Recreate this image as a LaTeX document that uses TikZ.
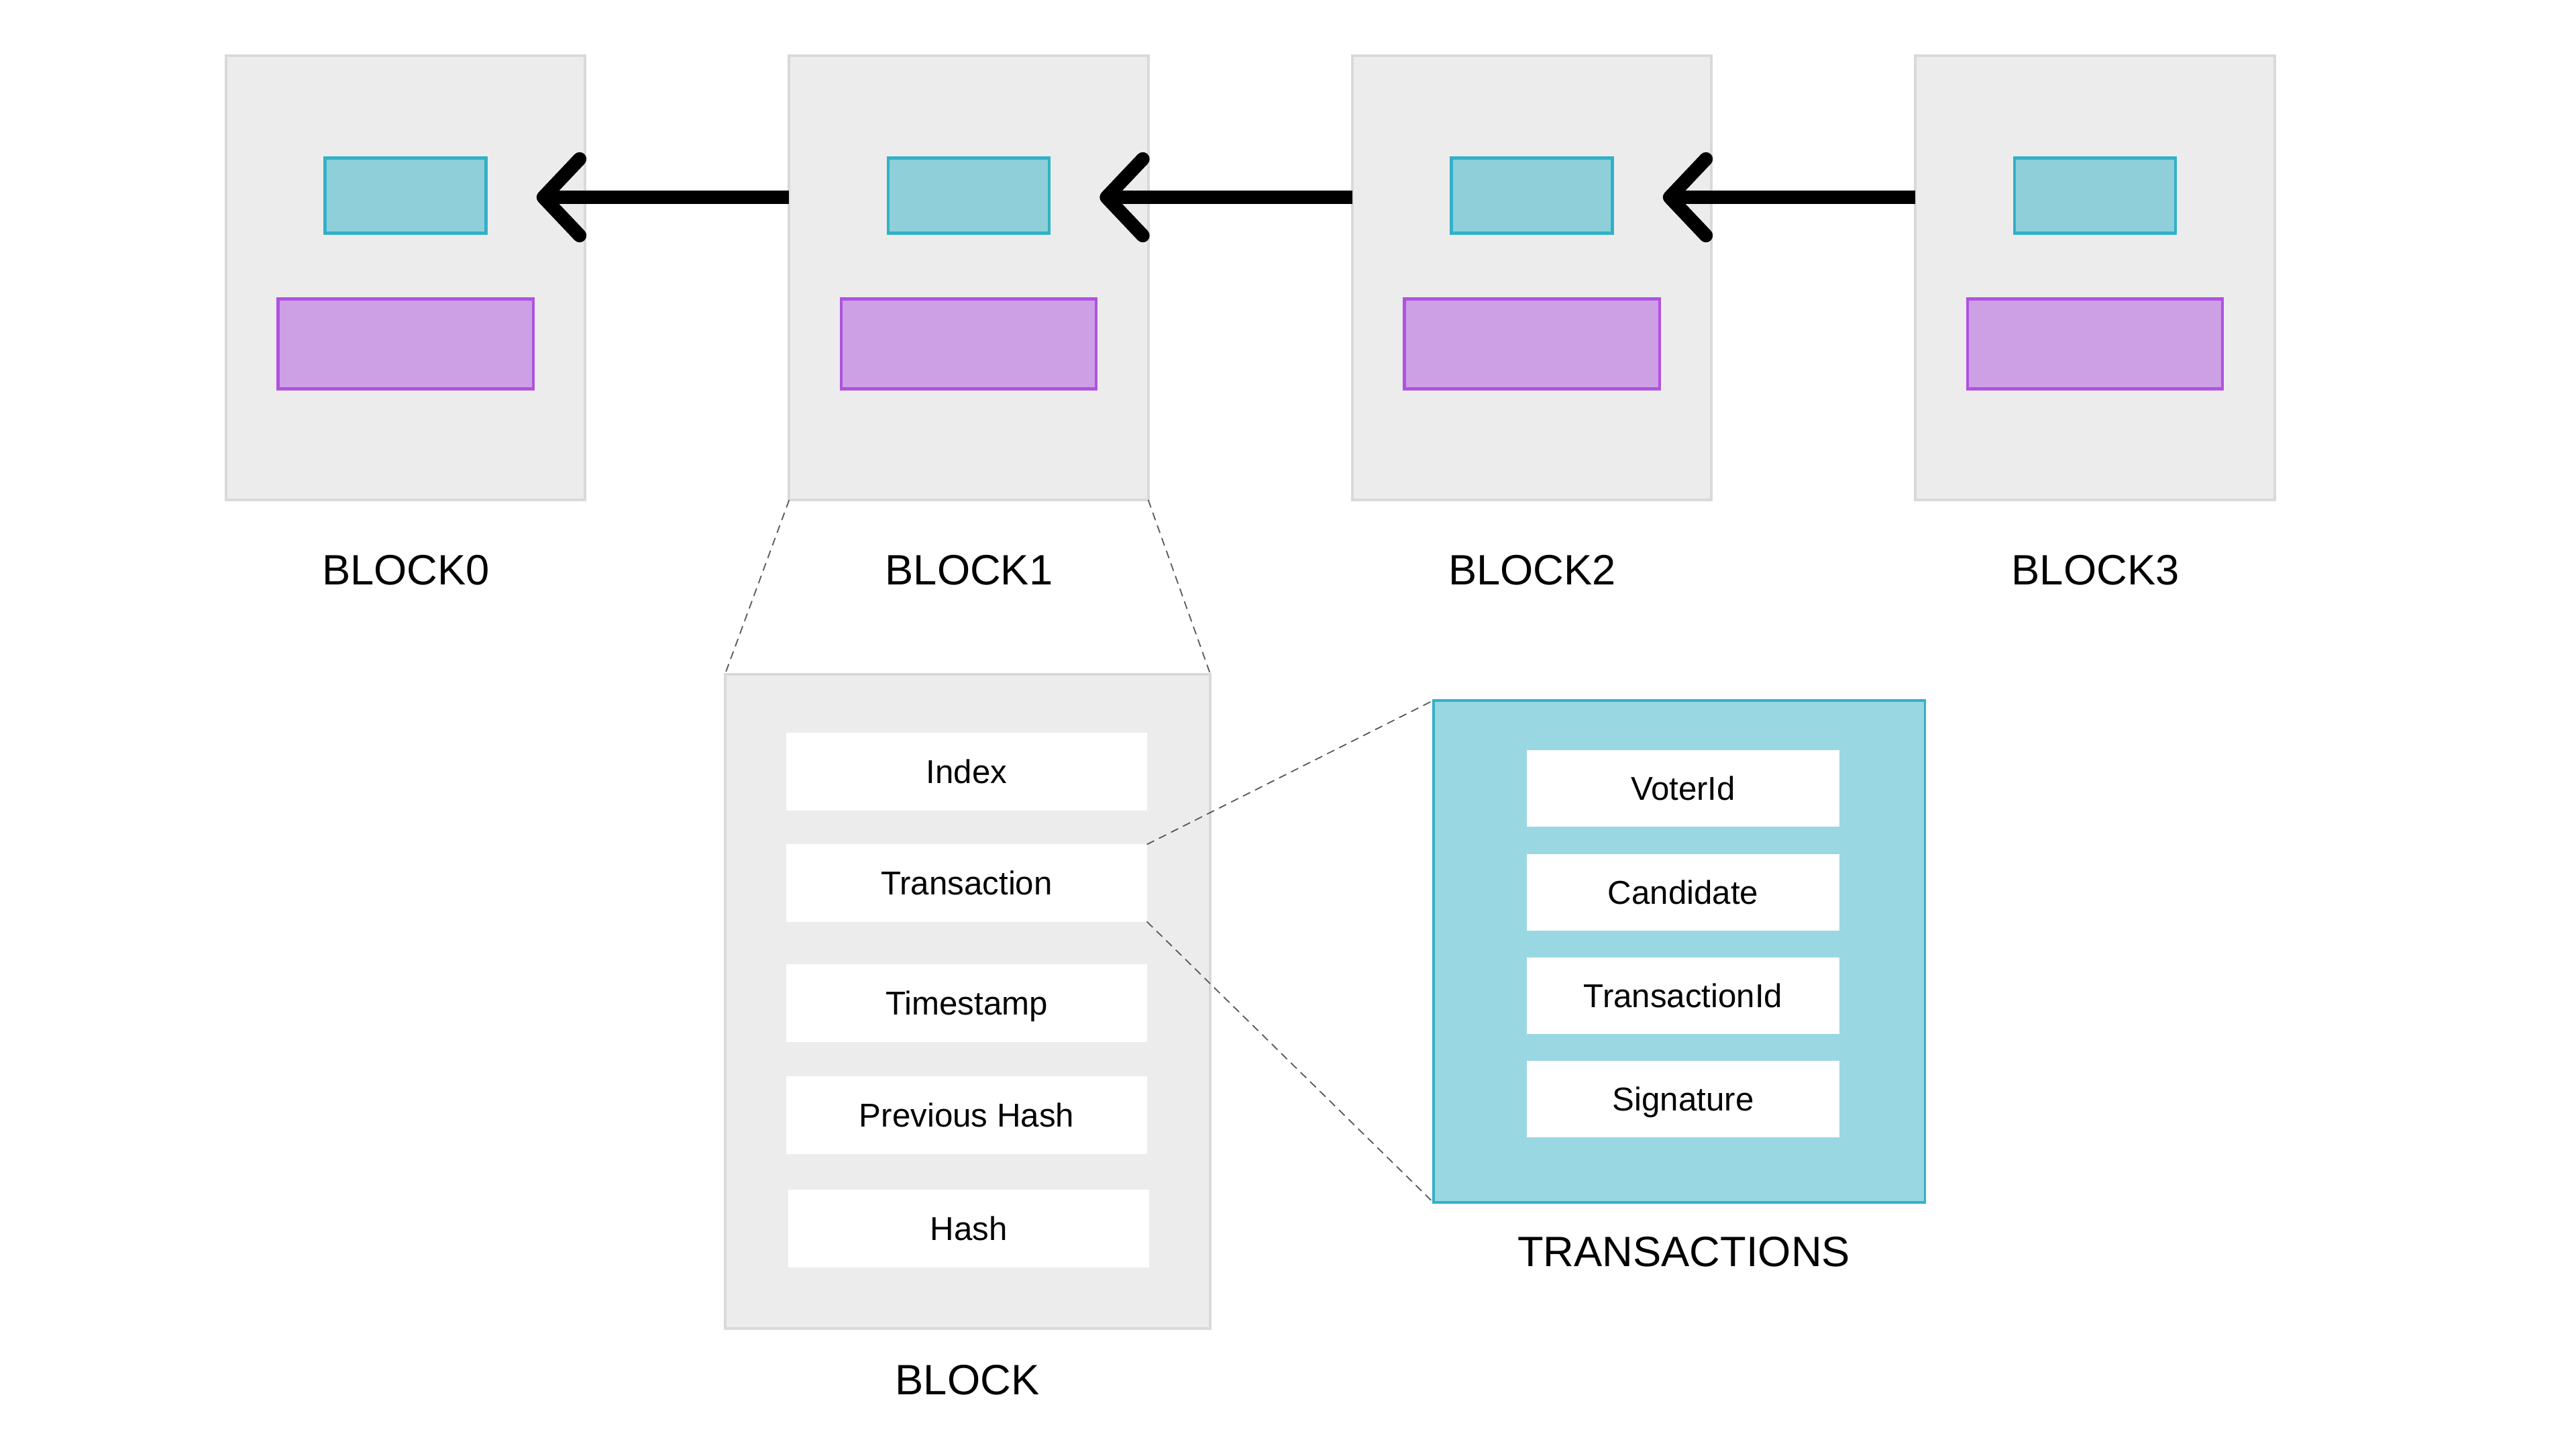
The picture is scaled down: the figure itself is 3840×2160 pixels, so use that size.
\documentclass[tikz,border=0pt]{standalone}
\usepackage{fontspec}
\setmainfont{Liberation Sans}
\usetikzlibrary{calc}
\definecolor{blockfill}{HTML}{ECECEC}
\definecolor{blockline}{HTML}{D9D9D9}
\definecolor{hashfill}{HTML}{8FCFD9}
\definecolor{hashline}{HTML}{31B1C8}
\definecolor{datafill}{HTML}{CDA0E5}
\definecolor{dataline}{HTML}{B052E0}
\definecolor{txfill}{HTML}{99D7E3}
\definecolor{zoomgrey}{HTML}{555555}
\begin{document}
\begin{tikzpicture}[x=0.01cm,y=-0.01cm,
  blockbox/.style={draw=blockline, fill=blockfill, line width=1.1pt, minimum width=5.35cm, minimum height=6.62cm, inner sep=0pt, outer sep=0pt},
  hashbox/.style={draw=hashline, fill=hashfill, line width=1.2pt, minimum width=2.40cm, minimum height=1.12cm, inner sep=0pt, outer sep=0pt},
  databox/.style={draw=dataline, fill=datafill, line width=1.2pt, minimum width=3.80cm, minimum height=1.34cm, inner sep=0pt, outer sep=0pt},
  biglabel/.style={font=\fontsize{18}{22}\selectfont, inner sep=0pt},
  field/.style={fill=white, minimum width=5.37cm, minimum height=1.15cm, inner sep=0pt, outer sep=0pt, font=\fontsize{14}{17}\selectfont, text height=10pt, text depth=0pt},
  txfield/.style={field, minimum width=4.66cm, minimum height=1.14cm},
  txbox/.style={draw=hashline, fill=txfill, line width=1pt, minimum width=7.32cm, minimum height=7.48cm, inner sep=0pt, outer sep=0pt},
  chain/.style={draw=black, line width=5.8pt},
  chevron/.style={chain, line cap=round, line join=round},
  zoomline/.style={draw=zoomgrey, line width=0.5pt, dash pattern=on 3.4pt off 2.3pt}
]
\useasboundingbox (0,0) rectangle (3840,2160);
\fill[white] (0,0) rectangle (3840,2160);

% chain of blocks
\foreach \i in {0,...,3}{
  \node[blockbox] (b\i) at ({604.5+839.5*\i},414) {};
  \node[hashbox] (h\i) at ({604.5+839.5*\i},291.5) {};
  \node[databox] (d\i) at ({604.5+839.5*\i},512.5) {};
  \node[biglabel] (l\i) at ({605+839.5*\i},850) {BLOCK\i};
}

% arrows
\foreach \i/\j in {1/0,2/1,3/2}{
  \coordinate (t\j) at ({810+839.5*\j},294);
  \draw[chain] (b\i.west |- t\j) -- (t\j);
  \draw[chevron] ($(t\j)+(54,-57)$) -- (t\j) -- ($(t\j)+(54,57)$);
}

% block detail
\node[blockbox, minimum width=7.23cm, minimum height=9.75cm] (blk) at (1442.5,1492.5) {};
\node[field] (f1) at (1441,1150) {Index};
\node[field] (f2) at (1441,1316) {Transaction};
\node[field] (f3) at (1441,1495) {Timestamp};
\node[field] (f4) at (1441,1662) {Previous Hash};
\node[field] (f5) at (1444,1831) {Hash};
\node[biglabel] (lblk) at (1442,2057) {BLOCK};

% transactions detail
\node[txbox] (tx) at (2503,1418) {};
\node[txfield] (g1) at (2509,1175) {VoterId};
\node[txfield] (g2) at (2509,1330) {Candidate};
\node[txfield] (g3) at (2509,1484) {TransactionId};
\node[txfield] (g4) at (2509,1638) {Signature};
\node[biglabel] (ltx) at (2510,1866) {TRANSACTIONS};

% zoom lines
\draw[zoomline] (b1.south west) -- (blk.north west);
\draw[zoomline] (b1.south east) -- (blk.north east);
\draw[zoomline] (f2.north east) -- (tx.north west);
\draw[zoomline] (f2.south east) -- (tx.south west);
\end{tikzpicture}
\end{document}
